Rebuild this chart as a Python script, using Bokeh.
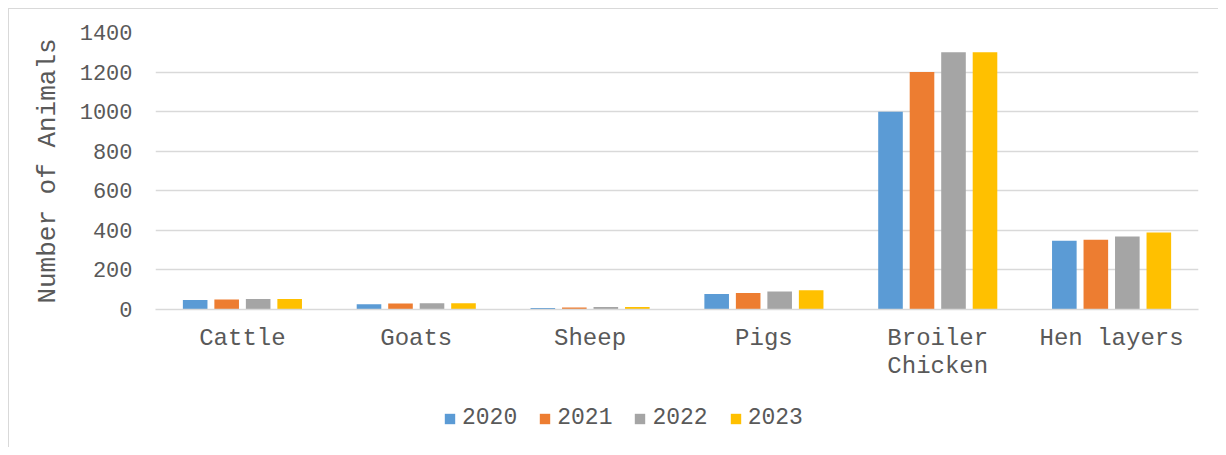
from bokeh.plotting import figure
from bokeh.models import ColumnDataSource, FactorRange, Legend, LegendItem, Range1d, FixedTicker
from bokeh.layouts import column
from bokeh.transform import dodge
from bokeh.embed import file_html
from bokeh.resources import INLINE

categories = ["Cattle", "Goats", "Sheep", "Pigs", "Broiler Chicken", "Hen layers"]
years = ["2020", "2021", "2022", "2023"]
v2020 = [48, 27, 7, 78, 1000, 347]
v2021 = [50, 30, 10, 84, 1200, 352]
v2022 = [53, 32, 13, 91, 1300, 369]
v2023 = [53, 31, 13, 97, 1300, 389]
colors = ["#5B9BD5", "#ED7D31", "#A5A5A5", "#FFC000"]
y_ticks = [0, 200, 400, 600, 800, 1000, 1200, 1400]

FONT = "Liberation Mono"
TXT = "#595959"
GRID = "#D9D9D9"

# wrapped display labels for the category axis
labels = [c.replace("Broiler ", "Broiler\n") for c in categories]

src = ColumnDataSource(dict(cat=labels, y2020=v2020, y2021=v2021, y2022=v2022, y2023=v2023))

W, H1, H2 = 1209, 380, 58
p = figure(x_range=FactorRange(*labels), y_range=Range1d(0, 1400),
           width=W, height=H1, output_backend="svg", toolbar_location=None,
           min_border_left=146, min_border_right=20, min_border_top=23, min_border_bottom=80)
p.outline_line_color = None
p.background_fill_color = "white"
p.border_fill_color = "white"

step = 0.1812
bw = 0.1415
for i, (yr, col) in enumerate(zip(years, colors)):
    p.vbar(x=dodge("cat", (i - 1.5) * step, range=p.x_range), top="y" + yr, width=bw,
           source=src, fill_color=col, line_color=None)

p.xgrid.grid_line_color = None
p.ygrid.grid_line_color = GRID
p.ygrid.grid_line_width = 1.3
p.yaxis.ticker = FixedTicker(ticks=y_ticks)

p.xaxis.axis_line_color = GRID
p.xaxis.axis_line_width = 1.3
p.xaxis.major_tick_line_color = None
p.xaxis.minor_tick_line_color = None
p.xaxis.major_label_text_font = FONT
p.xaxis.major_label_text_font_size = "24px"
p.xaxis.major_label_text_color = TXT
p.xaxis.major_label_text_line_height = 1.05
p.xaxis.major_label_standoff = 9

p.yaxis.axis_line_color = None
p.yaxis.major_tick_line_color = None
p.yaxis.minor_tick_line_color = None
p.yaxis.major_label_text_font = FONT
p.yaxis.major_label_text_font_size = "22px"
p.yaxis.major_label_text_color = TXT
p.yaxis.major_label_standoff = 17
p.yaxis.axis_label = "Number of Animals"
p.yaxis.axis_label_text_font = FONT
p.yaxis.axis_label_text_font_size = "26px"
p.yaxis.axis_label_text_font_style = "normal"
p.yaxis.axis_label_text_color = TXT
p.yaxis.axis_label_standoff = 14

# legend strip below the chart (its frame is aligned with the chart's frame)
pl = figure(width=W, height=H2, output_backend="svg", toolbar_location=None,
            x_range=Range1d(0, 1), y_range=Range1d(0, 1), x_axis_type=None, y_axis_type=None,
            min_border=0)
pl.outline_line_color = None
pl.xgrid.grid_line_color = None
pl.ygrid.grid_line_color = None
# legend-only swatches, placed outside the visible range
leg_src = ColumnDataSource(dict(x=[-5], top=[-5]))
leg_renderers = [pl.vbar(x="x", top="top", width=0.1, source=leg_src, fill_color=c, line_color=None)
                 for c in colors]
legend = Legend(items=[LegendItem(label=yr, renderers=[r]) for yr, r in zip(years, leg_renderers)],
                orientation="horizontal", location=(288, 16))
legend.label_text_font = FONT
legend.label_text_font_size = "23px"
legend.label_text_color = TXT
legend.glyph_width = 13
legend.glyph_height = 13
legend.label_standoff = 6
legend.spacing = 21
legend.padding = 0
legend.margin = 0
legend.border_line_color = None
legend.background_fill_alpha = 0
pl.add_layout(legend, "center")

layout = column(p, pl, spacing=0)
layout.styles = {"margin-left": "8px", "margin-top": "8px",
                 "border-left": "1px solid #D9D9D9", "border-top": "1px solid #D9D9D9"}

open("out.html", "w").write(file_html(layout, INLINE))
